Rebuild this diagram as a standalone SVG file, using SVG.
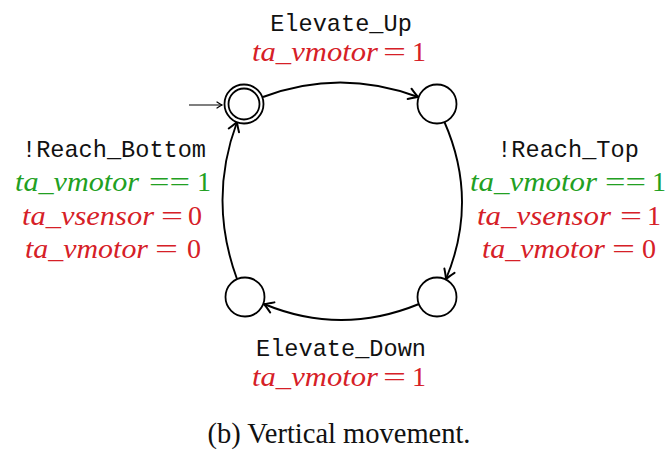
<svg xmlns="http://www.w3.org/2000/svg" width="669" height="452" viewBox="0 0 669 452">
<style>
.node{fill:#fff;stroke:#000;stroke-width:1.8}
.edge{fill:none;stroke:#000;stroke-width:1.9}
.tt{font-family:"Liberation Mono",monospace;font-size:23.6px;fill:#111;text-anchor:middle}
.m{font-family:"Liberation Serif","Times New Roman",serif;font-size:28px}
.i{font-family:"Liberation Serif","Times New Roman",serif;font-style:italic;font-size:27px}
.red{fill:#d62027}
.grn{fill:#22a022}
.cap{font-family:"Liberation Serif","Times New Roman",serif;font-size:28.5px;fill:#111;text-anchor:middle}
</style>
<defs>
<marker id="arr" markerUnits="userSpaceOnUse" markerWidth="16" markerHeight="16" viewBox="-12 -8 16 16" refX="0" refY="0" orient="auto">
<path d="M -9,-5.5 Q -3,-1.5 0,0 Q -3,1.5 -9,5.5" fill="none" stroke="#000" stroke-width="2" stroke-linecap="round" stroke-linejoin="round"/>
</marker>
<marker id="arrs" markerUnits="userSpaceOnUse" markerWidth="12" markerHeight="12" viewBox="-8 -6 12 12" refX="0" refY="0" orient="auto">
<path d="M -5,-3 Q -2,-1 0,0 Q -2,1 -5,3" fill="none" stroke="#000" stroke-width="1.3" stroke-linecap="round"/>
</marker>
</defs>
<g id="connectors">
<path class="edge" d="M 189,105 L 222,105" style="stroke-width:1.1" marker-end="url(#arrs)"/>
<path class="edge" d="M 263,97 Q 340,68 418,97" marker-end="url(#arr)"/>
<path class="edge" d="M 444,121 Q 479,200 446,279" marker-end="url(#arr)"/>
<path class="edge" d="M 419,304 Q 341,336 264,304" marker-end="url(#arr)"/>
<path class="edge" d="M 237,279 Q 208,200 237,122" marker-end="url(#arr)"/>
</g>
<g id="node-init">
<circle class="node" cx="244" cy="104" r="19.5"/>
<circle class="node" cx="244" cy="104" r="15.5"/>
</g>
<g id="node-top">
<circle class="node" cx="437" cy="104" r="19.5"/>
</g>
<g id="node-bottom-right">
<circle class="node" cx="437" cy="297" r="19.5"/>
</g>
<g id="node-bottom-left">
<circle class="node" cx="245" cy="297" r="19.5"/>
</g>
<g id="label-up">
<text class="tt" x="341" y="31">Elevate_Up</text>
<text class="m red" y="61"><tspan class="i" x="252" textLength="126" lengthAdjust="spacingAndGlyphs">ta_vmotor</tspan><tspan x="383" textLength="23" lengthAdjust="spacingAndGlyphs">=</tspan><tspan x="412">1</tspan></text>
</g>
<g id="label-top">
<text class="tt" x="568" y="157">!Reach_Top</text>
<text class="m grn" y="191"><tspan class="i" x="470" textLength="127" lengthAdjust="spacingAndGlyphs">ta_vmotor</tspan><tspan x="605" textLength="41" lengthAdjust="spacingAndGlyphs">==</tspan><tspan x="652">1</tspan></text>
<text class="m red" y="225"><tspan class="i" x="477" textLength="134" lengthAdjust="spacingAndGlyphs">ta_vsensor</tspan><tspan x="620" textLength="22" lengthAdjust="spacingAndGlyphs">=</tspan><tspan x="647">1</tspan></text>
<text class="m red" y="258"><tspan class="i" x="482" textLength="123" lengthAdjust="spacingAndGlyphs">ta_vmotor</tspan><tspan x="612" textLength="23" lengthAdjust="spacingAndGlyphs">=</tspan><tspan x="642">0</tspan></text>
</g>
<g id="label-bottom">
<text class="tt" x="114" y="157">!Reach_Bottom</text>
<text class="m grn" y="191"><tspan class="i" x="15" textLength="124" lengthAdjust="spacingAndGlyphs">ta_vmotor</tspan><tspan x="149" textLength="41" lengthAdjust="spacingAndGlyphs">==</tspan><tspan x="197">1</tspan></text>
<text class="m red" y="225"><tspan class="i" x="22" textLength="132" lengthAdjust="spacingAndGlyphs">ta_vsensor</tspan><tspan x="161" textLength="22" lengthAdjust="spacingAndGlyphs">=</tspan><tspan x="188">0</tspan></text>
<text class="m red" y="258"><tspan class="i" x="25" textLength="123" lengthAdjust="spacingAndGlyphs">ta_vmotor</tspan><tspan x="155" textLength="23" lengthAdjust="spacingAndGlyphs">=</tspan><tspan x="187">0</tspan></text>
</g>
<g id="label-down">
<text class="tt" x="341" y="356">Elevate_Down</text>
<text class="m red" y="386"><tspan class="i" x="252" textLength="126" lengthAdjust="spacingAndGlyphs">ta_vmotor</tspan><tspan x="383" textLength="23" lengthAdjust="spacingAndGlyphs">=</tspan><tspan x="412">1</tspan></text>
</g>
<text class="cap" x="339" y="443">(b) Vertical movement.</text>
</svg>
